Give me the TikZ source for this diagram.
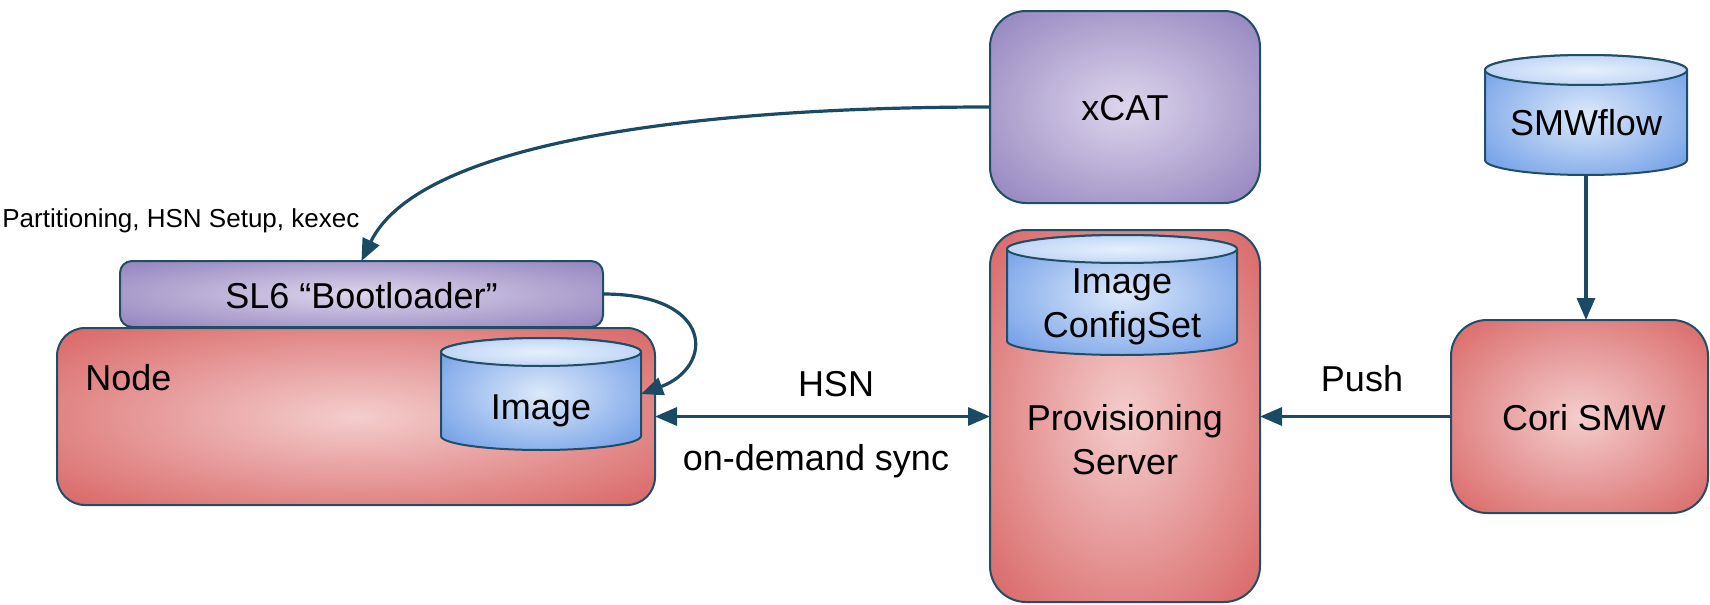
\documentclass[tikz,border=0pt]{standalone}
\usepackage{fontspec}
\setmainfont{Liberation Sans}
\usetikzlibrary{arrows.meta,shadings}

\definecolor{edgecol}{HTML}{1F4E66}
\definecolor{arrowcol}{HTML}{1B4A64}
\definecolor{redin}{HTML}{F4CDCD}
\definecolor{redout}{HTML}{DA6A6A}
\definecolor{purin}{HTML}{DDD5EC}
\definecolor{purout}{HTML}{9586BF}
\definecolor{bluein}{HTML}{DDE9FA}
\definecolor{blueout}{HTML}{75A1E8}
\definecolor{bluetopin}{HTML}{E6F0FD}
\definecolor{bluetopout}{HTML}{B4CDF3}

\pgfdeclareradialshading{redsh}{\pgfpoint{0bp}{0bp}}{color(0bp)=(redin); color(34bp)=(redout); color(50bp)=(redout)}
\pgfdeclareradialshading{pursh}{\pgfpoint{0bp}{0bp}}{color(0bp)=(purin); color(34bp)=(purout); color(50bp)=(purout)}
\pgfdeclareradialshading{bluesh}{\pgfpoint{0bp}{0bp}}{color(0bp)=(bluein); color(32bp)=(blueout); color(50bp)=(blueout)}
\pgfdeclareradialshading{bluetopsh}{\pgfpoint{0bp}{0bp}}{color(0bp)=(bluetopin); color(34bp)=(bluetopout); color(50bp)=(bluetopout)}

\newcommand{\dbshape}[5]{%
  \pgfmathsetmacro{\dbrx}{(#3-#1)/4}%
  \pgfmathsetmacro{\dbry}{#5/2}%
  \pgfmathsetmacro{\dbcx}{(#1+#3)/2}%
  \path[cylbody] (#1,#2+#5) -- (#1,#4-#5)
     arc[start angle=180,end angle=360,x radius=\dbrx pt,y radius=\dbry pt]
     -- (#3,#2+#5)
     arc[start angle=0,end angle=180,x radius=\dbrx pt,y radius=\dbry pt] -- cycle;
  \path[cyltop] (\dbcx,#2+#5) ellipse[x radius=\dbrx pt,y radius=\dbry pt];
}

\begin{document}
\begin{tikzpicture}[x=0.5pt,y=-0.5pt,
  box/.style={draw=edgecol, line width=1pt, inner sep=0pt, outer sep=0pt},
  redbox/.style={box, shade, shading=redsh, rounded corners=18pt},
  purbox/.style={box, shade, shading=pursh, rounded corners=18pt},
  cylnode/.style={inner sep=0pt, outer sep=0pt},
  cylbody/.style={draw=edgecol, line width=1pt, shade, shading=bluesh},
  cyltop/.style={draw=edgecol, line width=1pt, shade, shading=bluetopsh},
  lbl/.style={font=\fontsize{18}{21}\selectfont, anchor=base, inner sep=0pt},
  smalllbl/.style={font=\fontsize{13}{15}\selectfont, anchor=base west, inner sep=0pt},
  arr/.style={draw=arrowcol, line width=1.6pt, -{Triangle[length=11pt,width=9pt]}},
  darr/.style={draw=arrowcol, line width=1.6pt, {Triangle[length=11pt,width=9pt]}-{Triangle[length=11pt,width=9pt]}},
]
\useasboundingbox (0,0) rectangle (1710,605);
\fill[white] (0,0) rectangle (1710,605);

% Node box and bootloader
\node[redbox, rounded corners=14pt, minimum width=299pt, minimum height=88.5pt] (nodebox) at (356,416.5) {};
\node[purbox, rounded corners=6pt, minimum width=241.5pt, minimum height=33pt] (sl6) at (361.5,294) {};
\dbshape{441}{338}{641}{450}{14}
\node[cylnode, minimum width=100pt, minimum height=56pt] (img) at (541,394) {};

% xCAT
\node[purbox, minimum width=135pt, minimum height=96pt] (xcat) at (1125,107) {};

% Provisioning server
\node[redbox, minimum width=135pt, minimum height=186pt] (prov) at (1125,416) {};
\dbshape{1007}{235}{1237}{355}{14}
\node[cylnode, minimum width=115pt, minimum height=60pt] (cfg) at (1122,295) {};

% SMWflow and Cori SMW
\dbshape{1485}{55}{1687}{175}{15}
\node[cylnode, minimum width=101pt, minimum height=60pt] (smwf) at (1586,115) {};
\node[redbox, minimum width=128.5pt, minimum height=96.5pt] (cori) at (1579.5,416.5) {};

% Connectors
\draw[arr] (xcat.west) .. controls +(-290,0) and +(58,-120) .. (sl6.north);
\draw[arr] (sl6.east) .. controls +(112,0) and +(73,-27) .. (img.east);
\draw[darr] (nodebox.east) -- (nodebox.east -| prov.west);
\draw[arr] (cori.west) -- (cori.west -| prov.east);
\draw[arr] (smwf.south) -- (smwf.south |- cori.north);

% Texts
\node[smalllbl] (tpart) at (2,227) {Partitioning, HSN Setup, kexec};
\node[lbl] (tsl6) at (361.5,308) {SL6 “Bootloader”};
\node[lbl, anchor=base west] (tnode) at (85,390) {Node};
\node[lbl] (timg) at (541,419) {Image};
\node[lbl] (thsn) at (836,396) {HSN};
\node[lbl] (tsync) at (816,470) {on-demand sync};
\node[lbl] (txcat) at (1125,120) {xCAT};
\node[lbl] (tsmwf) at (1586,135) {SMWflow};
\node[lbl] (tcfga) at (1122,293) {Image};
\node[lbl] (tcfgb) at (1122,337) {ConfigSet};
\node[lbl] (tprova) at (1125,430) {Provisioning};
\node[lbl] (tprovb) at (1125,474) {Server};
\node[lbl] (tpush) at (1362,391) {Push};
\node[lbl] (tcori) at (1584,430) {Cori SMW};
\end{tikzpicture}
\end{document}
